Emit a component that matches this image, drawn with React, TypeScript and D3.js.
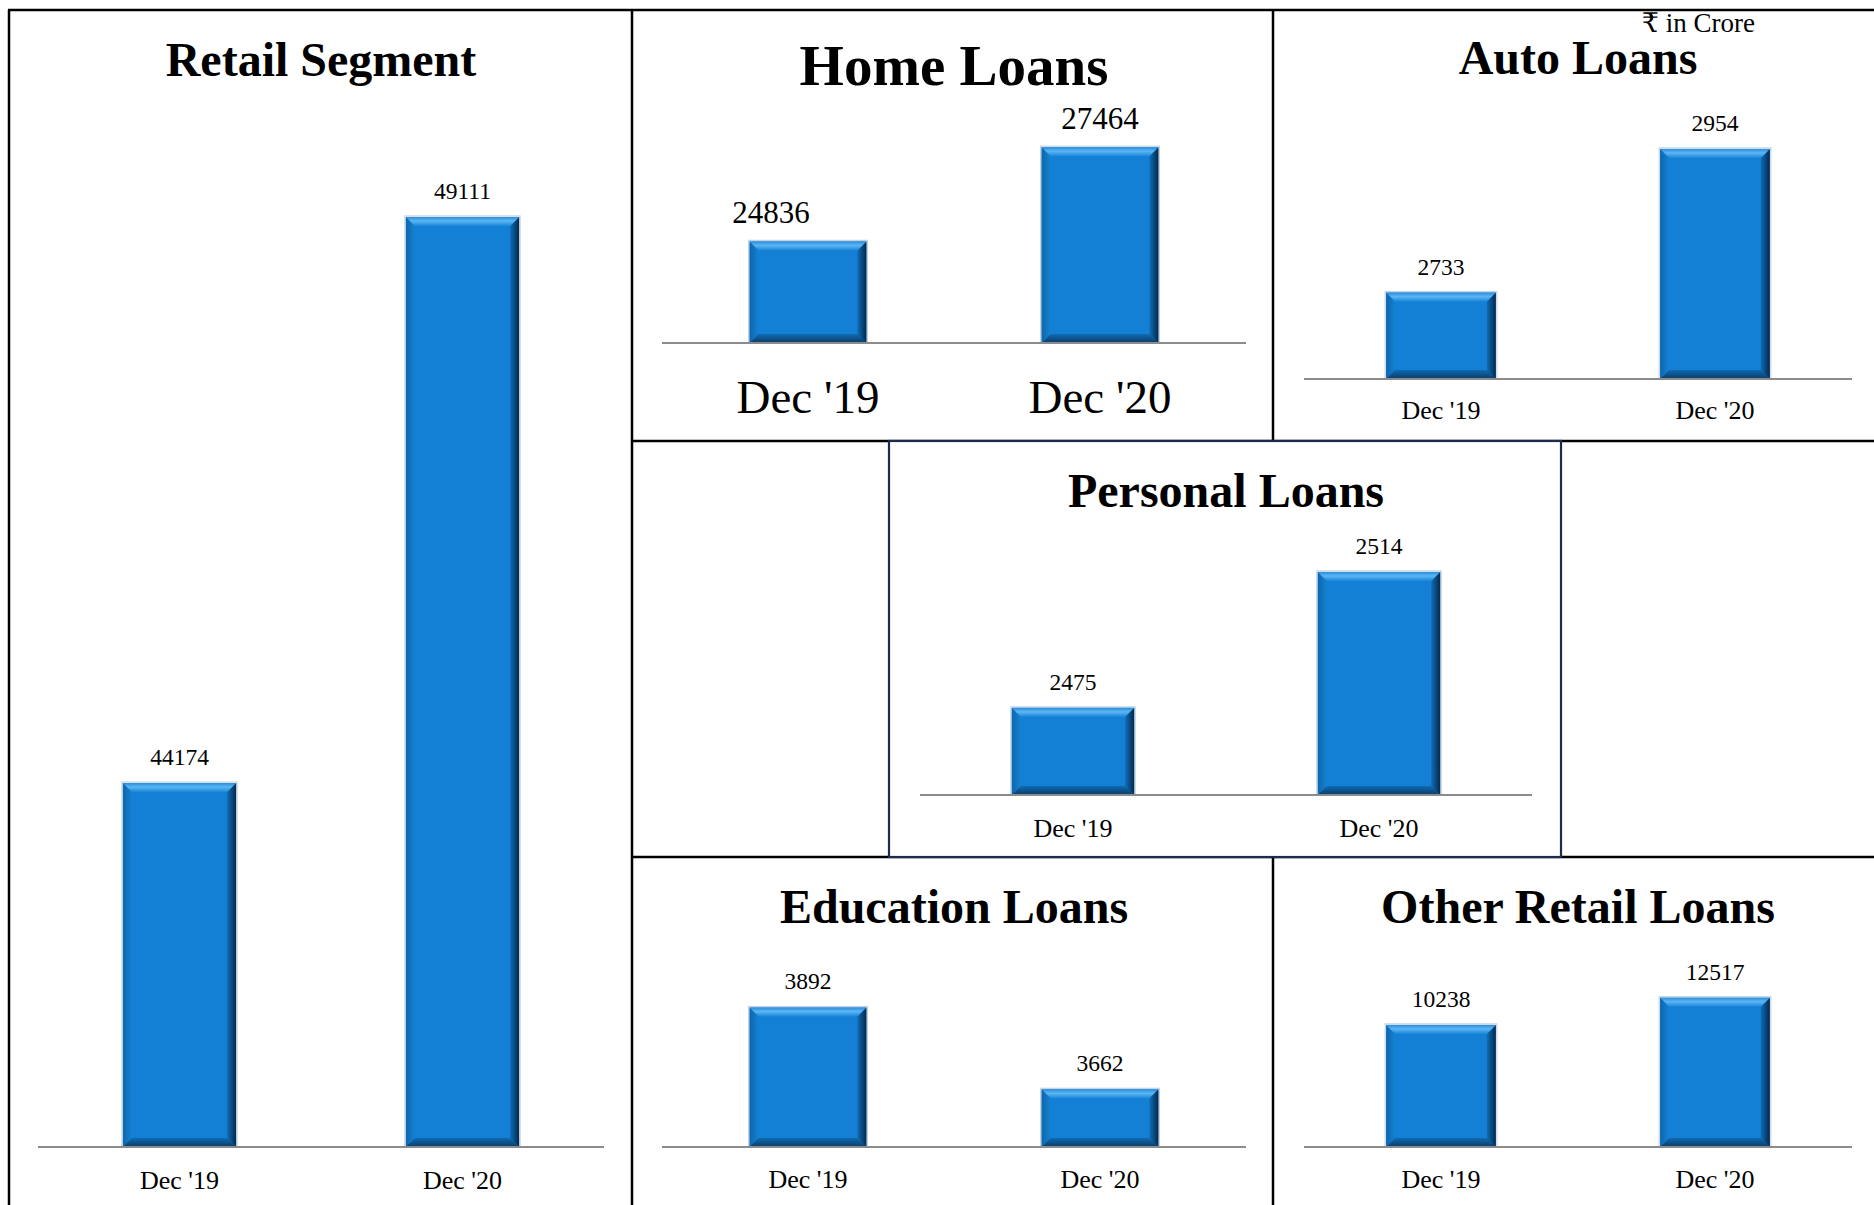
import React from 'react';
import * as d3 from 'd3';

// categories
const periods = ["Dec '19", "Dec '20"];

// series values (₹ in Crore)
const retailValues = [44174, 49111];
const homeValues = [24836, 27464];
const autoValues = [2733, 2954];
const personalValues = [2475, 2514];
const educationValues = [3892, 3662];
const otherValues = [10238, 12517];

// value-axis ranges as they appear in the picture (Excel picked non-zero minimums)
const retailDomain = [41000, 50000];
const homeDomain = [22000, 28000];
const autoDomain = [2600, 3000];
const personalDomain = [2450, 2520];
const educationDomain = [3500, 4000];
const otherDomain = [0, 14000];

const W = 1874;
const H = 1205;
const SERIF = '"Liberation Serif", "Times New Roman", "DejaVu Serif", serif';

const panels = [
  { title: 'Retail Segment', values: retailValues, domain: retailDomain, x0: 38, x1: 604, axisY: 1147, topY: 115, titleY: 76, titleSize: 48, valueSize: 23.5, catSize: 26, catDy: 42, labelDx: [0, 0] },
  { title: 'Home Loans', values: homeValues, domain: homeDomain, x0: 662, x1: 1246, axisY: 343, topY: 128, titleY: 85, titleSize: 57, valueSize: 31, catSize: 47, catDy: 70, labelDx: [-37, 0] },
  { title: 'Auto Loans', values: autoValues, domain: autoDomain, x0: 1304, x1: 1852, axisY: 379, topY: 119, titleY: 74, titleSize: 48, valueSize: 23.5, catSize: 26, catDy: 40, labelDx: [0, 0] },
  { title: 'Personal Loans', values: personalValues, domain: personalDomain, x0: 920, x1: 1532, axisY: 795, topY: 551, titleY: 507, titleSize: 48, valueSize: 23.5, catSize: 26, catDy: 42, labelDx: [0, 0] },
  { title: 'Education Loans', values: educationValues, domain: educationDomain, x0: 662, x1: 1246, axisY: 1147, topY: 969, titleY: 923, titleSize: 48, valueSize: 23.5, catSize: 26, catDy: 41, labelDx: [0, 0] },
  { title: 'Other Retail Loans', values: otherValues, domain: otherDomain, x0: 1304, x1: 1852, axisY: 1147, topY: 980, titleY: 923, titleSize: 48, valueSize: 23.5, catSize: 26, catDy: 41, labelDx: [0, 0] },
];

// Excel style bevelled column
function BevelBar({ x, y, w, h }) {
  const b = Math.min(9, h / 2, w / 2);
  const x2 = x + w;
  const y2 = y + h;
  const pts = (arr) => arr.map((p) => p.join(',')).join(' ');
  return (
    <g>
      <rect x={x - 1} y={y - 1} width={w + 2} height={h + 1} fill="none" stroke="#c3d3e3" strokeWidth={1.2} />
      <rect x={x} y={y} width={w} height={h} fill="#1380d5" />
      <polygon points={pts([[x, y], [x + b, y + b], [x + b, y2 - b], [x, y2]])} fill="url(#bevLeft)" />
      <polygon points={pts([[x2, y], [x2, y2], [x2 - b, y2 - b], [x2 - b, y + b]])} fill="url(#bevRight)" />
      <polygon points={pts([[x, y2], [x + b, y2 - b], [x2 - b, y2 - b], [x2, y2]])} fill="url(#bevBottom)" />
      <polygon points={pts([[x, y], [x2, y], [x2 - b, y + b], [x + b, y + b]])} fill="url(#bevTop)" />
    </g>
  );
}

function Panel({ p }) {
  const x = d3.scaleBand().domain(periods).range([p.x0, p.x1]).paddingInner(0.6).paddingOuter(0.3);
  const y = d3.scaleLinear().domain(p.domain).range([p.axisY, p.topY]);
  const cx = (p.x0 + p.x1) / 2;
  return (
    <g>
      <text x={cx} y={p.titleY} textAnchor="middle" fontFamily={SERIF} fontWeight="bold" fontSize={p.titleSize} fill="#000">
        {p.title}
      </text>
      {periods.map((c, i) => {
        const top = y(p.values[i]);
        return (
          <g key={c}>
            <BevelBar x={x(c)} y={top} w={x.bandwidth()} h={p.axisY - top} />
            <text x={x(c) + x.bandwidth() / 2 + p.labelDx[i]} y={top - 18} textAnchor="middle" fontFamily={SERIF} fontSize={p.valueSize} fill="#000">
              {p.values[i]}
            </text>
            <text x={x(c) + x.bandwidth() / 2} y={p.axisY + p.catDy} textAnchor="middle" fontFamily={SERIF} fontSize={p.catSize} fill="#000">
              {c}
            </text>
          </g>
        );
      })}
      <line x1={p.x0} x2={p.x1} y1={p.axisY} y2={p.axisY} stroke="#8c8c8c" strokeWidth={2} />
    </g>
  );
}

export default function App() {
  const black = '#000';
  const navy = '#1d2c4c';
  return (
    <div style={{ position: 'absolute', left: 0, top: 0, width: W, height: H, background: '#fff' }}>
      <svg width={W} height={H} viewBox={`0 0 ${W} ${H}`}>
        <defs>
          <linearGradient id="bevTop" x1="0" y1="0" x2="0" y2="1">
            <stop offset="0" stopColor="#2b8cd8" />
            <stop offset="0.45" stopColor="#5bb6f5" />
            <stop offset="1" stopColor="#1a87d7" />
          </linearGradient>
          <linearGradient id="bevRight" x1="0" y1="0" x2="1" y2="0">
            <stop offset="0" stopColor="#0f6db8" />
            <stop offset="1" stopColor="#05294a" />
          </linearGradient>
          <linearGradient id="bevBottom" x1="0" y1="0" x2="0" y2="1">
            <stop offset="0" stopColor="#0f6bb2" />
            <stop offset="1" stopColor="#0a3b66" />
          </linearGradient>
          <linearGradient id="bevLeft" x1="0" y1="0" x2="1" y2="0">
            <stop offset="0" stopColor="#0d66ad" />
            <stop offset="1" stopColor="#1582d3" />
          </linearGradient>
        </defs>
        <rect width={W} height={H} fill="#fff" />

        {/* grid of boxes */}
        <line x1={8} x2={W} y1={10} y2={10} stroke={black} strokeWidth={2.5} />
        <line x1={9} x2={9} y1={10} y2={H} stroke={black} strokeWidth={2.5} />
        <line x1={632} x2={632} y1={10} y2={H} stroke={black} strokeWidth={2.5} />
        <line x1={1273} x2={1273} y1={10} y2={441} stroke={black} strokeWidth={2.5} />
        <line x1={1273} x2={1273} y1={857} y2={H} stroke={black} strokeWidth={2.5} />
        <line x1={632} x2={W} y1={441} y2={441} stroke={black} strokeWidth={2.5} />
        <line x1={632} x2={W} y1={857} y2={857} stroke={black} strokeWidth={2.5} />
        <rect x={889} y={441} width={672} height={416} fill="#fff" stroke={navy} strokeWidth={2.2} />

        {panels.map((p) => (
          <Panel key={p.title} p={p} />
        ))}

        <text x={1755} y={32} textAnchor="end" fontFamily={SERIF} fontSize={27} fill="#000">
          ₹ in Crore
        </text>
      </svg>
    </div>
  );
}
